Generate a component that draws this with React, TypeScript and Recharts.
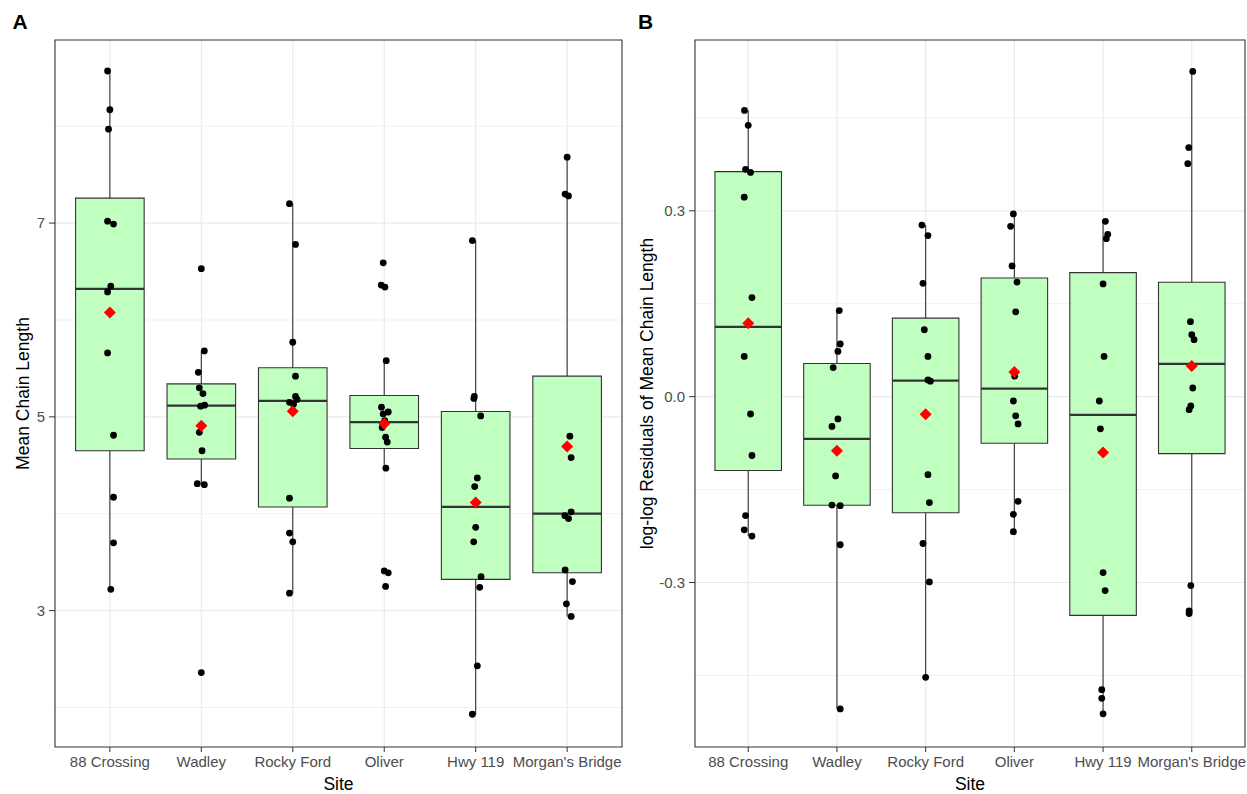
import React from "react";
import {
  ComposedChart,
  XAxis,
  YAxis,
  CartesianGrid,
  Scatter,
  ReferenceArea,
  ReferenceLine,
  Label,
} from "recharts";

const sites = ["88 Crossing", "Wadley", "Rocky Ford", "Oliver", "Hwy 119", "Morgan's Bridge"];

// panel A: mean chain length per sample, one row per site
const chainLength: number[][] = [
  [8.57, 8.17, 7.97, 7.02, 6.99, 6.35, 6.29, 5.66, 4.81, 4.17, 3.7, 3.22],
  [6.53, 5.68, 5.46, 5.3, 5.24, 5.12, 5.11, 4.84, 4.65, 4.31, 4.3, 2.36],
  [7.2, 6.78, 5.77, 5.42, 5.21, 5.18, 5.15, 5.13, 4.16, 3.8, 3.71, 3.18],
  [6.59, 6.36, 6.34, 5.58, 5.1, 5.05, 5.03, 4.96, 4.93, 4.89, 4.79, 4.74, 4.47, 3.41, 3.39, 3.25],
  [6.82, 5.21, 5.19, 5.01, 4.37, 4.28, 3.86, 3.71, 3.35, 3.24, 2.43, 1.93],
  [7.68, 7.3, 7.28, 4.8, 4.58, 4.02, 3.98, 3.95, 3.42, 3.3, 3.07, 2.94],
];
// horizontal jitter (category units) as seen in the figure
const chainJitter: number[][] = [
  [-0.025, 0, -0.015, -0.025, 0.04, 0.01, -0.025, -0.025, 0.04, 0.04, 0.04, 0.01],
  [0, 0.033, -0.033, -0.022, 0.018, 0.036, -0.008, -0.022, 0.008, -0.044, 0.033, 0],
  [-0.036, 0.03, 0, 0.03, 0.03, 0.047, -0.036, 0.008, -0.036, -0.036, 0, -0.036],
  [-0.011, -0.033, 0.008, 0.022, -0.03, 0.044, -0.011, 0.005, -0.005, -0.022, 0.015, 0.033, 0.018, 0, 0.044, 0.015],
  [-0.036, -0.015, -0.02, 0.055, 0.018, -0.011, 0, -0.022, 0.059, 0.044, 0.018, -0.036],
  [0, -0.022, 0.015, 0.03, 0.044, 0.044, -0.025, 0.015, -0.022, 0.058, -0.008, 0.044],
];

// panel B: log-log residuals
const residuals: number[][] = [
  [0.462, 0.438, 0.367, 0.362, 0.322, 0.16, 0.065, -0.028, -0.095, -0.192, -0.215, -0.225],
  [0.139, 0.085, 0.073, 0.047, -0.036, -0.048, -0.088, -0.128, -0.175, -0.176, -0.239, -0.504],
  [0.277, 0.26, 0.183, 0.108, 0.065, 0.027, 0.025, -0.126, -0.171, -0.237, -0.299, -0.453],
  [0.295, 0.275, 0.211, 0.185, 0.137, 0.033, -0.007, -0.031, -0.044, -0.169, -0.19, -0.218],
  [0.283, 0.262, 0.255, 0.182, 0.065, -0.007, -0.052, -0.284, -0.313, -0.473, -0.487, -0.512],
  [0.525, 0.402, 0.376, 0.121, 0.1, 0.092, 0.014, -0.015, -0.021, -0.305, -0.346, -0.35],
];
const residualJitter: number[][] = [
  [-0.042, 0, -0.03, 0.026, -0.045, 0.042, -0.045, 0.026, 0.042, -0.03, -0.045, 0.042],
  [0.026, 0.037, 0.011, -0.042, 0.011, -0.056, 0, -0.015, -0.056, 0.037, 0.037, 0.037],
  [-0.042, 0.026, -0.03, -0.015, 0.026, 0.026, 0.053, 0.026, 0.042, -0.03, 0.042, 0],
  [-0.011, -0.042, -0.026, 0.03, 0.015, 0.004, -0.011, 0.015, 0.042, 0.042, -0.011, -0.011],
  [0.026, 0.053, 0.037, 0, 0.011, -0.042, -0.03, 0, 0.023, -0.015, -0.015, 0],
  [0.011, -0.034, -0.045, -0.015, 0, 0.026, 0.011, -0.011, -0.03, -0.011, -0.03, -0.03],
];

const chainTicks = [3, 5, 7];
const chainMinor = [2, 4, 6, 8];
const residualTicks = [-0.3, 0, 0.3];
const residualMinor = [-0.45, -0.15, 0.15, 0.45];

const FONT = '"Liberation Sans", Arial, sans-serif';
const INK = "#333333";
const BOX_FILL = "#C1FFC1";
const HALF_BOX = 0.375;

// quantile type 7, same as R's default
function quantile(sorted: number[], p: number) {
  const pos = (sorted.length - 1) * p;
  const lo = Math.floor(pos);
  const hi = Math.ceil(pos);
  return sorted[lo] + (sorted[hi] - sorted[lo]) * (pos - lo);
}

function boxStats(values: number[]) {
  const s = [...values].sort((a, b) => a - b);
  const q1 = quantile(s, 0.25);
  const med = quantile(s, 0.5);
  const q3 = quantile(s, 0.75);
  const iqr = q3 - q1;
  const inside = s.filter((v) => v >= q1 - 1.5 * iqr && v <= q3 + 1.5 * iqr);
  const mean = s.reduce((a, b) => a + b, 0) / s.length;
  return { q1, med, q3, lo: inside[0], hi: inside[inside.length - 1], mean };
}

const Dot = (p: any) => <circle cx={p.cx} cy={p.cy} r={3.4} fill="#000" />;
const Diamond = (p: any) => {
  const s = 6;
  return (
    <polygon
      points={`${p.cx},${p.cy - s} ${p.cx + s},${p.cy} ${p.cx},${p.cy + s} ${p.cx - s},${p.cy}`}
      fill="#FF0000"
    />
  );
};

interface PanelProps {
  values: number[][];
  jitter: number[][];
  domain: [number, number];
  ticks: number[];
  minor: number[];
  fmt: (v: number) => string;
  yLabel: string;
  yLabelX: number;
  axisWidth: number;
  width: number;
  right: number;
}

function BoxPanel({ values, jitter, domain, ticks, minor, fmt, yLabel, yLabelX, axisWidth, width, right }: PanelProps) {
  const stats = values.map(boxStats);
  const points = values.flatMap((vals, i) => vals.map((v, j) => ({ x: i + 1 + jitter[i][j], y: v })));
  const means = stats.map((s, i) => ({ x: i + 1, y: s.mean }));
  const cats = sites.map((_, i) => i + 1);

  return (
    <ComposedChart width={width} height={794} margin={{ top: 40, right, bottom: 0, left: 0 }}>
      <CartesianGrid horizontalValues={minor} vertical={false} stroke="#EBEBEB" strokeWidth={0.7} />
      <CartesianGrid horizontalValues={ticks} verticalValues={cats} stroke="#EBEBEB" strokeWidth={1.2} />
      <XAxis
        type="number"
        dataKey="x"
        domain={[0.4, 6.6]}
        allowDataOverflow
        ticks={cats}
        interval={0}
        tickFormatter={(v: number) => sites[v - 1]}
        height={47}
        axisLine={false}
        tickLine={{ stroke: INK }}
        tickSize={5}
        tickMargin={4}
        tick={{ fill: "#4D4D4D", fontSize: 15, fontFamily: FONT }}
      >
        <Label
          content={(p: any) => {
            const vb = p.viewBox;
            return (
              <text x={vb.x + vb.width / 2} y={vb.y + 43} textAnchor="middle" fontSize={17.5} fontFamily={FONT} fill="#000">
                Site
              </text>
            );
          }}
        />
      </XAxis>
      <YAxis
        type="number"
        dataKey="y"
        domain={domain}
        allowDataOverflow
        ticks={ticks}
        interval={0}
        tickFormatter={fmt}
        width={axisWidth}
        axisLine={false}
        tickLine={{ stroke: INK }}
        tickSize={6}
        tickMargin={4}
        tick={{ fill: "#4D4D4D", fontSize: 15, fontFamily: FONT }}
      >
        <Label
          content={(p: any) => {
            const vb = p.viewBox;
            const cy = vb.y + vb.height / 2;
            return (
              <text
                x={yLabelX}
                y={cy}
                transform={`rotate(-90, ${yLabelX}, ${cy})`}
                textAnchor="middle"
                fontSize={17.5}
                fontFamily={FONT}
                fill="#000"
              >
                {yLabel}
              </text>
            );
          }}
        />
      </YAxis>

      {stats.map((s, i) => (
        <ReferenceLine key={`wu${i}`} segment={[{ x: i + 1, y: s.q3 }, { x: i + 1, y: s.hi }]} stroke={INK} strokeWidth={1.1} />
      ))}
      {stats.map((s, i) => (
        <ReferenceLine key={`wl${i}`} segment={[{ x: i + 1, y: s.lo }, { x: i + 1, y: s.q1 }]} stroke={INK} strokeWidth={1.1} />
      ))}
      {stats.map((s, i) => (
        <ReferenceArea
          key={`box${i}`}
          x1={i + 1 - HALF_BOX}
          x2={i + 1 + HALF_BOX}
          y1={s.q1}
          y2={s.q3}
          fill={BOX_FILL}
          fillOpacity={1}
          stroke={INK}
          strokeWidth={1.1}
          ifOverflow="visible"
        />
      ))}
      {stats.map((s, i) => (
        <ReferenceLine
          key={`med${i}`}
          segment={[{ x: i + 1 - HALF_BOX, y: s.med }, { x: i + 1 + HALF_BOX, y: s.med }]}
          stroke={INK}
          strokeWidth={2.3}
        />
      ))}
      <ReferenceArea
        x1={0.4}
        x2={6.6}
        y1={domain[0]}
        y2={domain[1]}
        fill="none"
        fillOpacity={0}
        stroke={INK}
        strokeWidth={1.1}
        ifOverflow="visible"
      />
      <Scatter data={points} dataKey="y" shape={Dot} isAnimationActive={false} />
      <Scatter data={means} dataKey="y" shape={Diamond} isAnimationActive={false} />
    </ComposedChart>
  );
}

export default function App() {
  return (
    <div style={{ position: "absolute", left: 0, top: 0, width: 1247, height: 794, background: "#fff" }}>
      <div style={{ position: "absolute", left: 0, top: 0 }}>
        <BoxPanel
          values={chainLength}
          jitter={chainJitter}
          domain={[1.592, 8.89]}
          ticks={chainTicks}
          minor={chainMinor}
          fmt={(v) => String(v)}
          yLabel="Mean Chain Length"
          yLabelX={28.5}
          axisWidth={55}
          width={630}
          right={8}
        />
      </div>
      <div style={{ position: "absolute", left: 630, top: 0 }}>
        <BoxPanel
          values={residuals}
          jitter={residualJitter}
          domain={[-0.5655, 0.5757]}
          ticks={residualTicks}
          minor={residualMinor}
          fmt={(v) => v.toFixed(1)}
          yLabel="log-log Residuals of Mean Chain Length"
          yLabelX={23}
          axisWidth={65}
          width={617}
          right={2}
        />
      </div>
      <svg width={1247} height={40} style={{ position: "absolute", left: 0, top: 0, pointerEvents: "none" }}>
        <text x={12.5} y={29} fontSize={21} fontWeight="bold" fontFamily={FONT} fill="#000">A</text>
        <text x={638} y={29} fontSize={21} fontWeight="bold" fontFamily={FONT} fill="#000">B</text>
      </svg>
    </div>
  );
}
